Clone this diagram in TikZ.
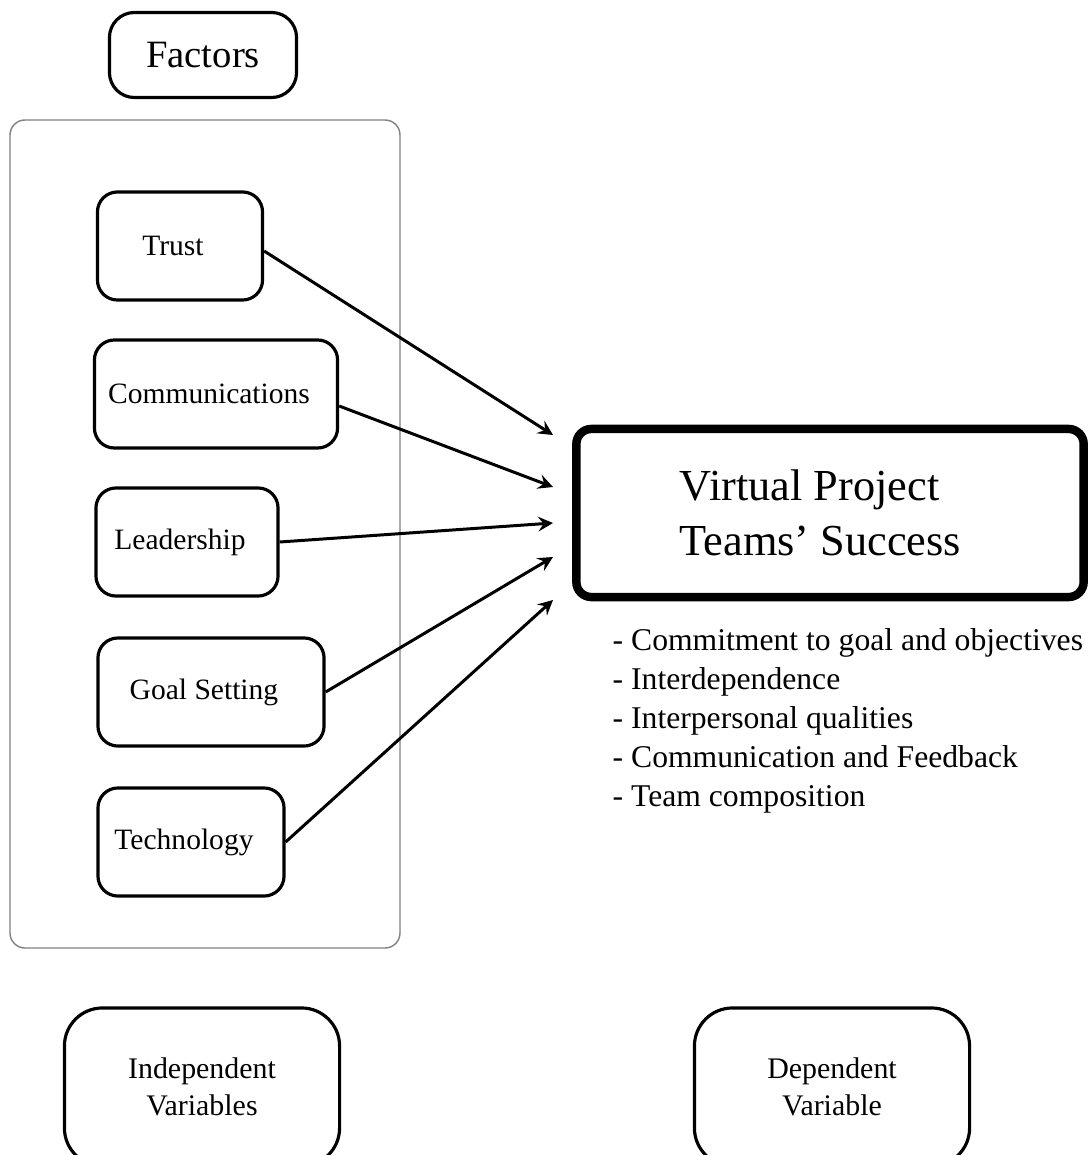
\documentclass[tikz,border=0pt]{standalone}
\usepackage{fontspec}
\setmainfont{Liberation Serif}
\usetikzlibrary{positioning}

\begin{document}
\begin{tikzpicture}[x=0.01cm, y=-0.01cm,
    factor/.style={draw, line width=0.9pt, rounded corners=0.2cm, minimum height=1.08cm, font=\fontsize{8.4}{10}\selectfont, execute at begin node={\hspace*{-0.14cm}}},
    varbox/.style={draw, line width=0.9pt, rounded corners=0.38cm, minimum width=2.75cm, minimum height=1.58cm, align=center, font=\fontsize{8.5}{10.6}\selectfont},
    link/.style={-stealth, line width=0.85pt}]
    \useasboundingbox (0,0) rectangle (1089,1155);
    \clip (0,0) rectangle (1089,1155);

    % frame round the factors
    \draw[gray, line width=0.4pt, rounded corners=0.15cm] (10,120) rectangle (400,948);
    \node[draw, line width=0.9pt, rounded corners=0.25cm, minimum width=1.87cm, minimum height=0.85cm, font=\fontsize{11}{13}\selectfont] (factors) at (203,55) {Factors};

    \node[factor, minimum width=1.65cm] (trust) at (180,246) {Trust};
    \node[factor, minimum width=2.43cm] (comm) at (216,394) {Communications};
    \node[factor, minimum width=1.82cm] (lead) at (187,542) {Leadership};
    \node[factor, minimum width=2.26cm] (goal) at (211,692) {Goal Setting};
    \node[factor, minimum width=1.86cm] (tech) at (191,842) {Technology};

    \node[draw, line width=2.4pt, rounded corners=0.15cm, minimum width=5.07cm, minimum height=1.68cm, text width=3.0cm, align=flush left, font=\fontsize{12.6}{15.6}\selectfont] (vpts) at (830,513) {Virtual Project\\Teams' Success};
    \node[anchor=north west, inner sep=0pt, align=left, font=\fontsize{9}{11.1}\selectfont] (dims) at (612,628) {- Commitment to goal and objectives\\- Interdependence\\- Interpersonal qualities\\- Communication and Feedback\\- Team composition};

    \coordinate (e1) at (553,435);
    \coordinate (e2) at (553,487);
    \coordinate (e3) at (553,523);
    \coordinate (e4) at (553,557);
    \coordinate (e5) at (553,600);
    \draw[link] ([yshift=-0.05cm]trust.east) -- (e1);
    \draw[link] ([yshift=-0.12cm]comm.east) -- (e2);
    \draw[link] (lead.east) -- (e3);
    \draw[link] (goal.east) -- (e4);
    \draw[link] (tech.east) -- (e5);

    \node[varbox] (indep) at (202,1087) {Independent\\Variables};
    \node[varbox] (dep) at (832,1087) {Dependent\\Variable};
\end{tikzpicture}
\end{document}
